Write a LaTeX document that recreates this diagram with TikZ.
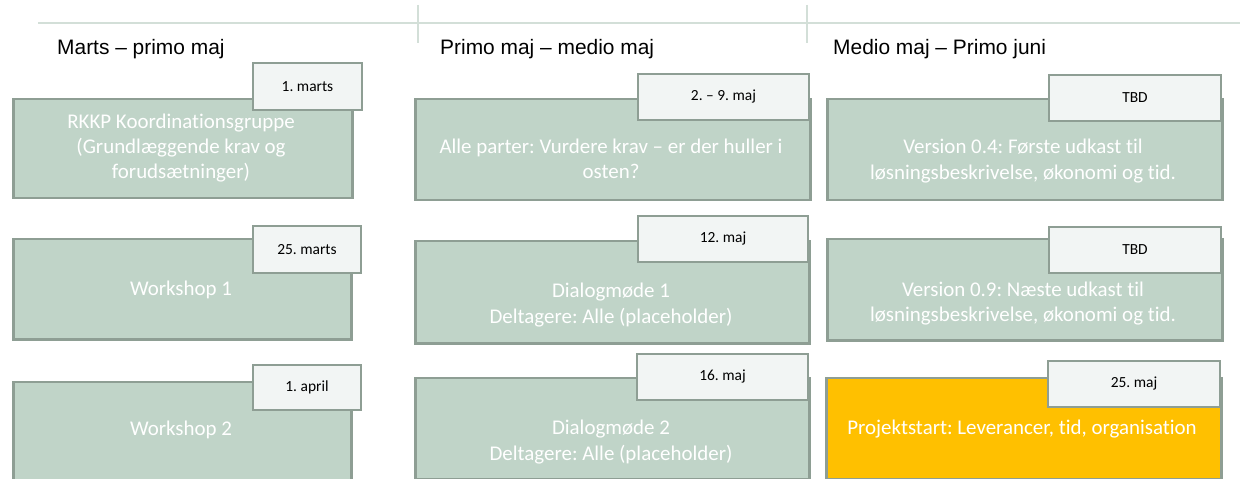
\documentclass[tikz,border=0pt]{standalone}
\usepackage{fontspec}
\setmainfont[Ligatures={NoCommon}]{Carlito}
\newfontfamily\headfont{Liberation Sans}
\frenchspacing
\definecolor{boxfill}{HTML}{C0D4C8}
\definecolor{boxline}{HTML}{8E9E94}
\definecolor{tagfill}{HTML}{F2F5F4}
\definecolor{gridline}{HTML}{D3DFD8}
\definecolor{hilite}{HTML}{FFC000}
\tikzset{
  mainbox/.style={draw=boxline, fill=boxfill, line width=2.5bp, inner sep=0pt, anchor=north west},
  tagbox/.style={draw=boxline, fill=tagfill, line width=2.5bp, inner sep=0pt, font=\fontsize{15.5}{18}\selectfont, text=black},
  boxtext/.style={text=white, align=center, font=\fontsize{21}{25.5}\selectfont, inner sep=0pt},
  header/.style={font=\headfont\fontsize{21}{25}\selectfont, anchor=base west, inner sep=0pt},
  grid/.style={draw=gridline, line width=1.5bp}
}
\begin{document}
\begin{tikzpicture}[x=1bp,y=-1bp]
\useasboundingbox (0,0) rectangle (1240,479);
% timeline
\coordinate (l0) at (38,23);
\coordinate (l1) at (1240,23);
\coordinate (v1a) at (418,5);
\coordinate (v1b) at (418,43);
\coordinate (v2a) at (807,5);
\coordinate (v2b) at (807,43);
\draw[grid] (l0) -- (l1);
\draw[grid] (v1a) -- (v1b);
\draw[grid] (v2a) -- (v2b);
% headers
\node[header] (h1) at (57,55) {Marts – primo maj};
\node[header] (h2) at (440,55) {Primo maj – medio maj};
\node[header] (h3) at (833,55) {Medio maj – Primo juni};
% column 1
\node[mainbox, minimum width=339bp, minimum height=99bp] (b11) at (12,98) {};
\node[tagbox, minimum width=109bp, minimum height=47bp] (g11) at (307.5,86.5) {1. marts};
\node[boxtext] (t11) at (181,148) {RKKP Koordinationsgruppe\\(Grundlæggende krav og\\forudsætninger)};
\node[mainbox, minimum width=338bp, minimum height=100bp] (b21) at (12,238) {};
\node[tagbox, minimum width=108bp, minimum height=47bp] (g21) at (307,249.5) {25. marts};
\node[boxtext] (t21) at (181,290) {Workshop 1};
\node[mainbox, minimum width=338bp, minimum height=110bp] (b31) at (12,381) {};
\node[tagbox, minimum width=108bp, minimum height=45bp] (g31) at (307,387.5) {1. april};
\node[boxtext] (t31) at (181,430) {Workshop 2};
% column 2
\node[mainbox, minimum width=395bp, minimum height=101bp] (b12) at (414,98) {};
\node[tagbox, minimum width=171bp, minimum height=46bp] (g12) at (723.5,97) {2. – 9. maj};
\node[boxtext] (t12) at (611,159) {Alle parter: Vurdere krav – er der huller i\\osten?};
\node[mainbox, minimum width=394bp, minimum height=102bp] (b22) at (414,240) {};
\node[tagbox, minimum width=170bp, minimum height=46bp] (g22) at (723,239) {12. maj};
\node[boxtext] (t22) at (611,305) {Dialogmøde 1\\Deltagere: Alle (placeholder)};
\node[mainbox, minimum width=394bp, minimum height=101bp] (b32) at (414,377) {};
\node[tagbox, minimum width=171bp, minimum height=46bp] (g32) at (722.5,377) {16. maj};
\node[boxtext] (t32) at (611,442) {Dialogmøde 2\\Deltagere: Alle (placeholder)};
% column 3
\node[mainbox, minimum width=395bp, minimum height=101bp] (b13) at (826,98) {};
\node[tagbox, minimum width=172bp, minimum height=46bp] (g13) at (1135,98) {TBD};
\node[boxtext] (t13) at (1023,161) {Version 0.4: Første udkast til\\løsningsbeskrivelse, økonomi og tid.};
\node[mainbox, minimum width=395bp, minimum height=101bp] (b23) at (826,238) {};
\node[tagbox, minimum width=172bp, minimum height=46bp] (g23) at (1135,250) {TBD};
\node[boxtext] (t23) at (1023,303.5) {Version 0.9: Næste udkast til\\løsningsbeskrivelse, økonomi og tid.};
\node[mainbox, fill=hilite, minimum width=395bp, minimum height=101bp] (b33) at (825,377) {};
\node[tagbox, minimum width=172bp, minimum height=46bp] (g33) at (1134,384) {25. maj};
\node[boxtext] (t33) at (1022,429) {Projektstart: Leverancer, tid, organisation};
\end{tikzpicture}
\end{document}
